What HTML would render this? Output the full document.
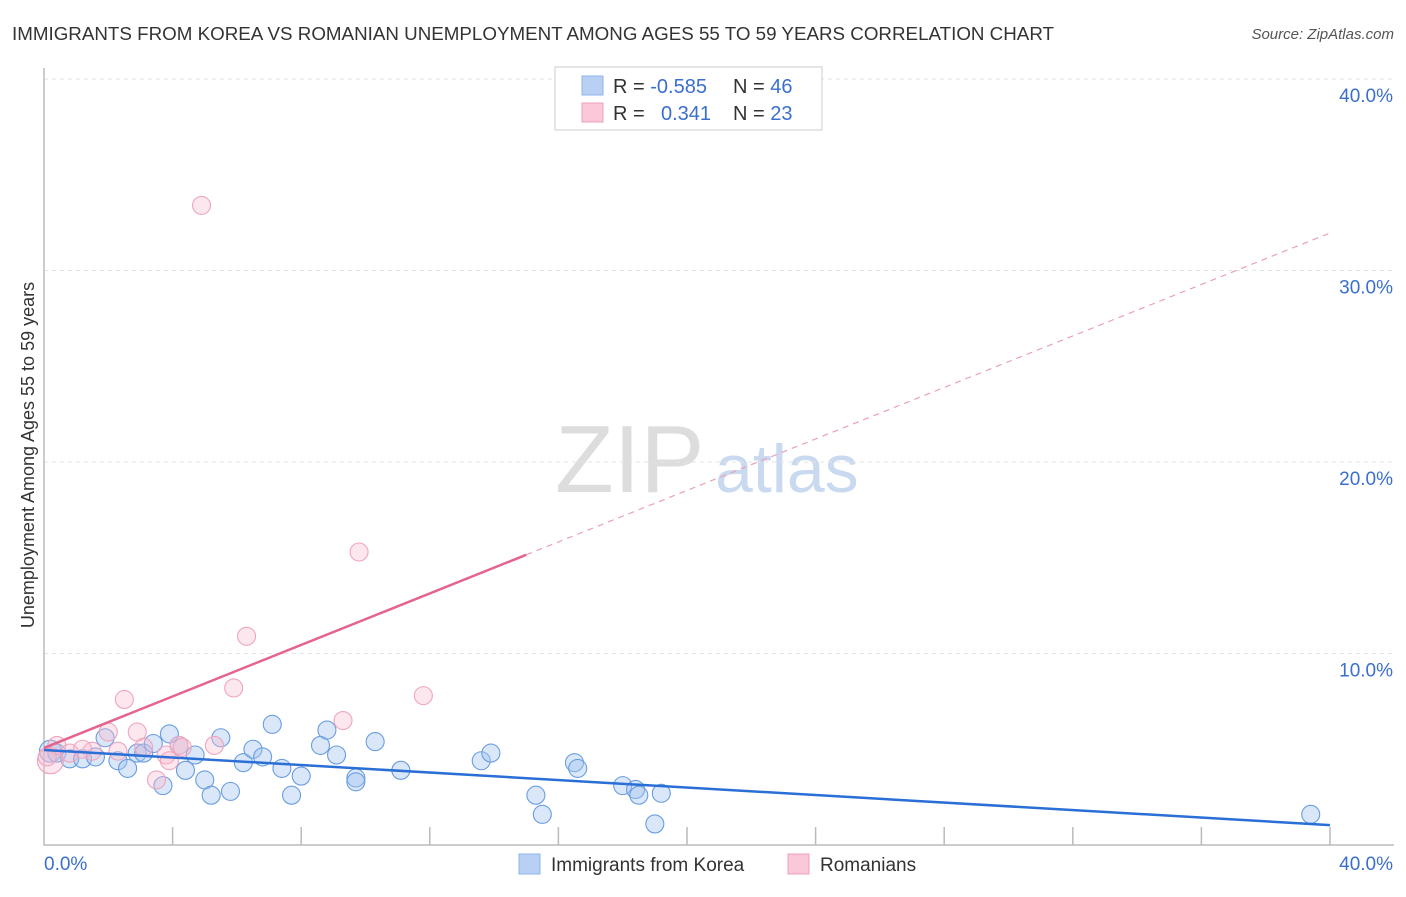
<!DOCTYPE html>
<html><head><meta charset="utf-8"><style>
body{margin:0;background:#fff;font-family:"Liberation Sans",sans-serif;}
svg text{font-family:"Liberation Sans",sans-serif;}
</style></head><body>
<svg id="c" width="1406" height="892" xmlns="http://www.w3.org/2000/svg">
<text x="12" y="40" font-size="18" fill="#333" textLength="1042" lengthAdjust="spacingAndGlyphs">IMMIGRANTS FROM KOREA VS ROMANIAN UNEMPLOYMENT AMONG AGES 55 TO 59 YEARS CORRELATION CHART</text>
<text x="1394" y="39" font-size="15" fill="#555" font-style="italic" text-anchor="end">Source: ZipAtlas.com</text>
<text x="34" y="455" font-size="18" fill="#333" text-anchor="middle" transform="rotate(-90 34 455)">Unemployment Among Ages 55 to 59 years</text>
<text x="555" y="492" font-size="96" fill="#ddd" font-family="Liberation Serif">ZIP</text>
<text x="715" y="492" font-size="68" fill="#c9d9f0">atlas</text>
<g id="grid"></g><g id="pts"></g><g id="lines"></g>
<g>
<rect x="555" y="67" width="267" height="63" fill="#fff" stroke="#ccc"/>
<rect x="582" y="76" width="21" height="19" fill="#b8d0f4" stroke="#8fb3e8"/>
<rect x="582" y="103" width="21" height="19" fill="#fac8d8" stroke="#f0a0ba"/>
<text x="613" y="93" font-size="20" fill="#333">R = <tspan fill="#3a6fd0">-0.585</tspan><tspan x="733">N = </tspan><tspan fill="#3a6fd0">46</tspan></text>
<text x="613" y="120" font-size="20" fill="#333">R = <tspan x="661" fill="#3a6fd0">0.341</tspan><tspan x="733">N = </tspan><tspan fill="#3a6fd0">23</tspan></text>
</g>
<g>
<rect x="519" y="854" width="21" height="20" fill="#b8d0f4" stroke="#8fb3e8"/>
<text x="551" y="871" font-size="19" fill="#333">Immigrants from Korea</text>
<rect x="788" y="854" width="21" height="20" fill="#fac8d8" stroke="#f0a0ba"/>
<text x="820" y="871" font-size="19" fill="#333">Romanians</text>
</g>
</svg>
<script>
const yTicks=[10,20,30,40];
const yTickLabels=["10.0%","20.0%","30.0%","40.0%"];
const xTickVals=[4,8,12,16,20,24,28,32,36,40];
const koreaX=[0.2,0.4,0.8,1.2,1.6,1.9,2.3,2.6,2.9,3.1,3.4,3.7,3.9,4.2,4.4,4.7,5.0,5.2,5.5,5.8,6.2,6.5,6.8,7.1,7.4,7.7,8.0,8.6,8.8,9.1,9.7,9.7,10.3,11.1,13.6,13.9,15.3,15.5,16.5,16.6,18.0,18.4,18.5,19.2,19.0,39.4];
const koreaY=[4.9,4.8,4.5,4.5,4.6,5.6,4.4,4.0,4.8,4.8,5.3,3.1,5.8,5.2,3.9,4.7,3.4,2.6,5.6,2.8,4.3,5.0,4.6,6.3,4.0,2.6,3.6,5.2,6.0,4.7,3.5,3.3,5.4,3.9,4.4,4.8,2.6,1.6,4.3,4.0,3.1,2.9,2.6,2.7,1.1,1.6];
const romX=[0.2,0.4,0.8,1.5,2.3,2.5,2.9,3.1,3.5,3.8,3.9,4.2,4.3,4.9,5.3,5.9,6.3,9.3,9.8,11.8,0.1,1.2,2.0];
const romY=[4.4,5.2,4.8,4.9,4.9,7.6,5.9,5.1,3.4,4.7,4.4,5.2,5.1,33.4,5.2,8.2,10.9,6.5,15.3,7.8,4.6,5.0,5.9];
const koreaTrend=[4.96,1.04];
const romTrend=[5.07,31.96];
const X=v=>44+v/40*1286, Y=v=>845-v/10*191.5;
const NS="http://www.w3.org/2000/svg";
function mk(p,t,a){const e=document.createElementNS(NS,t);for(const k in a)e.setAttribute(k,a[k]);document.getElementById(p).appendChild(e);return e;}
yTicks.forEach((v,i)=>{
 const g=mk('grid','line',{x1:44,x2:1394,y1:Y(v),y2:Y(v),stroke:'#e3e3e3','stroke-dasharray':'4,4'});
 
 
 const t=mk('grid','text',{x:1393,y:Y(v)+23,'font-size':19,fill:'#3a6fd0','text-anchor':'end'});t.textContent=yTickLabels[i];
 
 
});
const ax=mk('grid','path',{d:'M44,68V845H1394',fill:'none',stroke:'#bbb','stroke-width':1.5});


xTickVals.forEach(v=>{const l=mk('grid','line',{x1:X(v),x2:X(v),y1:827,y2:845,stroke:'#bbb','stroke-width':1.5});
 
 });
const x0=mk('grid','text',{x:44,y:870,'font-size':19,fill:'#3a6fd0'});x0.textContent='0.0%';


const x1=mk('grid','text',{x:1393,y:870,'font-size':19,fill:'#3a6fd0','text-anchor':'end'});x1.textContent='40.0%';


koreaX.forEach((v,i)=>{const c=mk('pts','circle',{cx:X(v),cy:Y(koreaY[i]),r:i==0?11:9,fill:'rgba(160,195,240,0.4)',stroke:'#6a9de0','stroke-width':1.1});
 
 });
romX.forEach((v,i)=>{const c=mk('pts','circle',{cx:X(v),cy:Y(romY[i]),r:i==0?13:9,fill:'rgba(248,185,205,0.35)',stroke:'#eea5bd','stroke-width':1.1});
 
 });
const bl=mk('lines','line',{x1:X(0),y1:Y(koreaTrend[0]),x2:X(40),y2:Y(koreaTrend[1]),stroke:'#2a6fd6','stroke-width':2.5});


const ry=x=>romTrend[0]+(romTrend[1]-romTrend[0])*x/40;
const ps=mk('lines','line',{x1:X(0),y1:Y(ry(0)),x2:X(15),y2:Y(ry(15)),stroke:'#e5648e','stroke-width':2.5});


const pd=mk('lines','line',{x1:X(15),y1:Y(ry(15)),x2:X(40),y2:Y(ry(40)),stroke:'#eaa0b8','stroke-width':1.2,'stroke-dasharray':'6,5'});


</script>
</body></html>
